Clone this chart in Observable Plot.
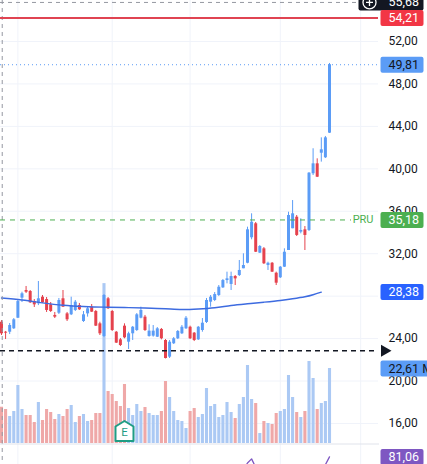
<!DOCTYPE html>
<html>
<head>
<meta charset="utf-8">
<script src="https://cdn.jsdelivr.net/npm/d3@7"></script>
<script src="https://cdn.jsdelivr.net/npm/@observablehq/plot@0.6"></script>
<style>
  html, body { margin: 0; padding: 0; background: #ffffff; }
  #chart { position: relative; width: 427px; height: 464px; overflow: hidden; background: #ffffff; }
  #chart > svg { position: absolute; left: 0; top: 0; }
</style>
</head>
<body>
<div id="chart"></div>
<script>
// ---------- DATA ----------
const candleOpen = [25.54,24.60,24.60,24.92,25.92,27.81,28.53,28.44,27.49,27.28,
27.90,27.68,27.18,26.18,26.39,27.75,26.33,26.24,26.65,27.12,
25.61,26.33,26.96,26.55,25.39,24.20,27.75,26.55,24.60,23.88,
25.17,23.66,24.45,24.76,25.92,26.02,24.20,24.23,24.13,24.86,
23.82,22.25,23.51,23.98,24.45,24.92,25.07,24.51,23.88,24.76,
25.52,27.43,27.59,28.06,28.78,29.47,29.10,29.85,29.94,30.58,
31.10,33.50,34.82,32.05,32.46,30.89,31.10,30.16,29.73,30.73,
32.30,34.35,35.44,34.03,34.25,34.19,39.53,40.47,41.47,41.04,
43.36];
const candleHigh = [25.70,24.67,25.42,25.89,27.59,28.37,28.91,28.53,27.68,29.38,
28.06,27.87,27.40,26.46,27.78,28.53,26.46,27.90,27.59,27.31,
26.55,26.96,27.21,26.65,25.54,28.15,27.87,26.65,24.67,24.01,
25.39,24.60,25.14,26.36,26.96,26.18,25.30,25.23,25.04,24.95,
23.91,23.82,24.10,24.76,25.23,26.08,25.17,24.57,25.14,25.89,
27.78,28.06,28.34,29.00,29.57,30.26,30.26,29.94,31.36,31.99,
34.50,35.76,34.94,32.77,32.58,31.20,31.17,30.26,30.79,32.46,
35.91,37.01,35.60,35.29,34.56,39.65,41.89,40.94,42.92,43.05,
49.93];
const candleLow = [24.29,23.91,24.38,24.86,25.89,27.40,28.25,27.31,26.93,27.11,
27.31,26.46,26.46,25.89,26.27,26.93,25.61,26.17,26.55,26.65,
25.52,26.02,26.46,25.14,24.29,24.10,26.74,24.67,23.54,23.25,
23.98,22.97,23.82,24.67,25.86,24.67,24.13,24.13,24.10,23.88,
22.08,22.12,23.44,23.91,24.38,24.86,23.91,23.72,23.82,24.60,
25.42,26.96,27.49,27.96,28.72,29.16,28.53,29.00,29.85,30.58,
31.05,33.31,32.11,32.02,30.98,30.42,30.23,29.00,29.66,30.70,
32.30,34.35,33.62,33.87,32.30,34.09,39.37,39.18,40.63,40.97,
43.33];
const candleClose = [24.45,24.51,25.23,25.77,27.49,28.22,28.37,27.37,27.18,27.75,
27.37,26.65,26.55,26.02,27.59,26.96,25.77,27.12,27.43,26.71,
26.24,26.81,26.49,25.17,24.45,28.06,26.81,24.76,23.57,23.35,
24.07,24.45,25.07,26.24,26.65,24.76,24.70,24.70,24.92,23.98,
22.12,23.66,23.98,24.67,25.07,25.92,23.98,23.82,25.07,25.45,
27.59,27.90,28.15,28.84,29.47,29.63,29.85,29.63,30.42,30.89,
34.25,34.97,32.14,32.68,31.05,31.10,30.26,29.22,30.73,32.14,
35.60,35.76,33.72,34.19,33.72,39.59,40.47,39.21,41.79,42.92,
49.81];
// volume in millions
const volumeM = [10.94,10.25,8.14,9.65,17.49,10.25,8.44,8.44,6.33,12.36,
6.93,10.25,9.35,7.24,8.74,8.14,10.25,11.46,6.33,8.14,
8.74,6.63,6.93,9.04,9.04,48.2,15.68,14.77,12.66,11.15,
17.79,10.55,8.44,11.76,9.65,10.85,9.04,8.44,8.44,9.65,
18.69,13.87,9.65,6.93,6.63,4.52,9.65,10.55,7.84,8.74,
16.58,11.15,11.76,7.84,8.44,12.36,9.35,7.54,11.76,13.87,
23.52,13.27,12.06,3.01,6.63,6.03,5.73,9.04,9.65,10.25,
20.5,13.87,9.35,7.84,9.65,24.72,19.6,10.25,12.06,12.66,
22.61];
// moving average (sampled along the curve)
const maIndex  = [0,5,10,15,20,25,30,35,40,44,48,52,56,60,64,68,71,74,76,78];
const maValues = [27.82,27.63,27.37,27.14,27.02,26.96,26.93,26.88,26.81,26.74,26.79,26.91,27.12,27.28,27.43,27.59,27.75,27.94,28.13,28.38];
// lower pane oscillator, only the parts that reach into view
const rsiIndex  = [59,60,61,62,78,79,80];
const rsiValues = [58,70,77.5,62,60,67,81.06];
// axis + reference lines
const gridTicks = [16,20,24,28,32,36,40,44,48,52];
const tickLabels = [16,20,24,32,36,40,44,48,52];   // 28 is fully hidden under the 28,38 label
const monthStarts = [4,27,46,68,87.6];
const stopPrice = 54.21;
const lastPrice = 49.81;
const pruPrice = 35.18;
const pruText = "PRU";
const maLast = 28.38;
const supportPrice = 22.85;
const crosshairPrice = 55.68;
const crosshairIndex = 0.18;
const lastVolume = 22.61;
const rsiLast = 81.06;
const earningsIndex = 30;
const earningsText = "E";

// ---------- LAYOUT ----------
const W = 427, H = 464;
const PRICE_TOP = 55.864, PX_PER_UNIT = 10.61;     // price scale calibration
const VOL_BASE = 443, VOL_PX = 3.317;               // volume pane calibration
const RSI_Y100 = 446, RSI_PX = 0.55;                // oscillator pane calibration
const xDomain = [-0.24, 91.95];
const UP = "#5b9cf6", DOWN = "#e5424d";
const UP_VOL = "#abc9f4", DOWN_VOL = "#efa8a8";
const FONT = "Roboto, 'Liberation Sans', Arial, sans-serif";
const fmt = v => v.toFixed(2).replace(".", ",");

const candles = candleOpen.map((o, i) => ({
  i, open: o, high: candleHigh[i], low: candleLow[i], close: candleClose[i], volume: volumeM[i]
}));
const ups = candles.filter(d => d.close >= d.open);
const downs = candles.filter(d => d.close < d.open);
const ma = maIndex.map((i, k) => ({i, v: maValues[k]}));
const rsi = rsiIndex.map((i, k) => ({i, v: rsiValues[k]}));

const base = {
  width: W, height: H,
  marginLeft: 0, marginRight: 49, marginTop: 0, marginBottom: 0,
  x: {domain: xDomain, axis: null},
  style: {background: "transparent", fontFamily: FONT, fontSize: "12px", color: "#131722"}
};
const priceY = {domain: [12, 56], range: [(PRICE_TOP - 12) * PX_PER_UNIT, (PRICE_TOP - 56) * PX_PER_UNIT], axis: null};
const volY = {domain: [0, 40], range: [VOL_BASE, VOL_BASE - 40 * VOL_PX], axis: null};
const rsiY = {domain: [60, 104], range: [RSI_Y100 + 40 * RSI_PX, RSI_Y100 - 4 * RSI_PX], axis: null};

function boxSymbol(x0, x1, h, r) {
  return {draw(ctx) {
    const y0 = -h / 2, y1 = h / 2;
    ctx.moveTo(x0 + r, y0);
    ctx.lineTo(x1 - r, y0);
    ctx.arcTo(x1, y0, x1, y0 + r, r);
    ctx.lineTo(x1, y1 - r);
    ctx.arcTo(x1, y1, x1 - r, y1, r);
    ctx.lineTo(x0 + r, y1);
    ctx.arcTo(x0, y1, x0, y1 - r, r);
    ctx.lineTo(x0, y0 + r);
    ctx.arcTo(x0, y0, x0 + r, y0, r);
    ctx.closePath();
  }};
}
const houseSymbol = {draw(ctx) {
  ctx.moveTo(0, -10); ctx.lineTo(9, -4.5); ctx.lineTo(9, 10); ctx.lineTo(-9, 10); ctx.lineTo(-9, -4.5); ctx.closePath();
}};
const plusCircle = {draw(ctx) {
  ctx.moveTo(6.5, 0); ctx.arc(0, 0, 6.5, 0, 2 * Math.PI);
  ctx.moveTo(-3.5, 0); ctx.lineTo(3.5, 0); ctx.moveTo(0, -3.5); ctx.lineTo(0, 3.5);
}};

function label(value, text, fill, color, x1 = 45) {
  return [
    Plot.dot([value], {y: d => d, frameAnchor: "right", symbol: boxSymbol(2, x1, 16, 2), r: 1, fill, stroke: "none"}),
    Plot.text([value], {y: d => d, frameAnchor: "right", dx: 10, textAnchor: "start", text: () => text, fill: color, fontSize: 12.5})
  ];
}

// ---------- LAYER 1: grid ----------
const grid = Plot.plot({
  ...base, y: priceY,
  marks: [
    Plot.ruleY(gridTicks, {stroke: "#f0f3fa", strokeWidth: 1}),
    Plot.ruleX(monthStarts, {stroke: "#f0f3fa", strokeWidth: 1})
  ]
});

// ---------- LAYER 2: volume ----------
const vol = Plot.plot({
  ...base, y: volY,
  marks: [
    Plot.ruleX(ups, {x: "i", y1: 0, y2: "volume", stroke: UP_VOL, strokeWidth: 3.1}),
    Plot.ruleX(downs, {x: "i", y1: 0, y2: "volume", stroke: DOWN_VOL, strokeWidth: 3.1}),
    Plot.dot([earningsIndex], {x: d => d, y: () => 0, dy: -12.5, symbol: houseSymbol, r: 1, fill: "#ffffff", stroke: "#1f9d85", strokeWidth: 2, strokeLinejoin: "round"}),
    Plot.text([earningsIndex], {x: d => d, y: () => 0, dy: -11, text: () => earningsText, fill: "#1f9d85", fontSize: 11.5})
  ]
});

// ---------- LAYER 3: price ----------
const price = Plot.plot({
  ...base, y: priceY,
  marks: [
    Plot.ruleX(ups, {x: "i", y1: "low", y2: "high", stroke: UP, strokeWidth: 1}),
    Plot.ruleX(downs, {x: "i", y1: "low", y2: "high", stroke: DOWN, strokeWidth: 1}),
    Plot.ruleX(ups, {x: "i", y1: "open", y2: "close", stroke: UP, strokeWidth: 3}),
    Plot.ruleX(downs, {x: "i", y1: "open", y2: "close", stroke: DOWN, strokeWidth: 3}),
    Plot.line(ma, {x: "i", y: "v", curve: "natural", stroke: "#3d6be0", strokeWidth: 1.4}),
    Plot.ruleX([crosshairIndex], {stroke: "#9598a1", strokeDasharray: "4,4", strokeWidth: 1}),
    Plot.ruleY([crosshairPrice], {stroke: "#9598a1", strokeDasharray: "4,4", strokeWidth: 1, insetRight: 21}),
    Plot.ruleY([stopPrice], {stroke: "#e04452", strokeWidth: 2}),
    Plot.ruleY([lastPrice], {stroke: UP, strokeDasharray: "1,3", strokeWidth: 1}),
    Plot.ruleY([pruPrice], {stroke: "#4caf50", strokeDasharray: "5,5", strokeWidth: 1, insetRight: 27}),
    Plot.ruleY([supportPrice], {stroke: "#131722", strokeDasharray: "5,4", strokeWidth: 1.5}),
    Plot.axisY(tickLabels, {anchor: "right", tickSize: 0, tickPadding: 10, tickFormat: fmt, fontSize: 12, color: "#131722", label: null}),
    Plot.text([pruPrice], {y: d => d, frameAnchor: "right", dx: -5, textAnchor: "end", text: () => pruText, fill: "#4caf50", fontSize: 11}),
    Plot.dot([supportPrice], {y: d => d, frameAnchor: "right", dx: 6, symbol: "triangle", rotate: 90, r: 4.5, fill: "#131722", stroke: "none"}),
    Plot.dot([crosshairPrice], {y: d => d, frameAnchor: "right", symbol: boxSymbol(-20, 45, 16, 2), r: 1, fill: "#131722", stroke: "none"}),
    Plot.dot([crosshairPrice], {y: d => d, frameAnchor: "right", dx: -9, symbol: plusCircle, r: 1, fill: "none", stroke: "#ffffff", strokeWidth: 1.3}),
    Plot.text([crosshairPrice], {y: d => d, frameAnchor: "right", dx: 10, textAnchor: "start", text: d => fmt(d), fill: "#ffffff", fontSize: 12.5}),
    ...label(stopPrice, fmt(stopPrice), "#f23645", "#ffffff"),
    ...label(lastPrice, fmt(lastPrice), "#5b9cf6", "#131722"),
    ...label(pruPrice, fmt(pruPrice), "#4caf50", "#ffffff"),
    ...label(maLast, fmt(maLast), "#2962ff", "#ffffff")
  ]
});

// ---------- LAYER 4: volume label ----------
const volLabel = Plot.plot({
  ...base, y: volY,
  marks: [...label(lastVolume, fmt(lastVolume) + " M", "#5b9cf6", "#131722", 60)]
});

// ---------- LAYER 5: lower pane ----------
const lower = Plot.plot({
  ...base, marginTop: 443.5, y: rsiY,
  marks: [
    Plot.frame({anchor: "top", stroke: "#e0e3eb"}),
    Plot.line(rsi, {x: "i", y: "v", stroke: "#7e57c2", strokeWidth: 1.3}),
    ...label(rsiLast, fmt(rsiLast), "#7e57c2", "#ffffff")
  ]
});

const root = document.getElementById("chart");
[grid, vol, price, volLabel, lower].forEach(s => root.appendChild(s));
</script>
</body>
</html>
